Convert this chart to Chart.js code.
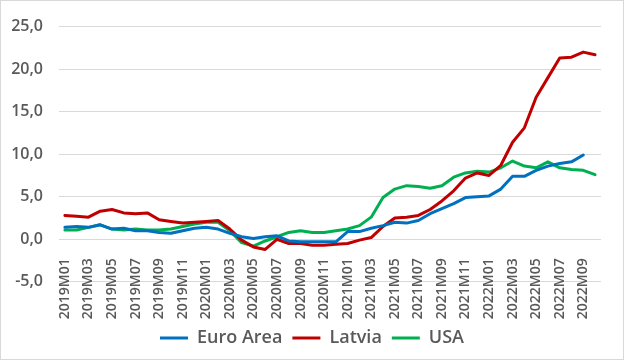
<!DOCTYPE html>
<html>
<head>
<meta charset="utf-8">
<script src="https://cdn.jsdelivr.net/npm/chart.js@4"></script>
<style>
  html, body { margin: 0; padding: 0; background: #fff; }
  #wrap { width: 624px; height: 360px; box-sizing: border-box; border: 1px solid #d9d9d9; }
  canvas { display: block; }
</style>
</head>
<body>
<div id="wrap"><canvas id="chart" width="622" height="358" style="width:622px;height:358px"></canvas></div>
<script>
// Inflation, % year on year
const months = [
  '2019M01','2019M02','2019M03','2019M04','2019M05','2019M06','2019M07','2019M08','2019M09','2019M10','2019M11','2019M12',
  '2020M01','2020M02','2020M03','2020M04','2020M05','2020M06','2020M07','2020M08','2020M09','2020M10','2020M11','2020M12',
  '2021M01','2021M02','2021M03','2021M04','2021M05','2021M06','2021M07','2021M08','2021M09','2021M10','2021M11','2021M12',
  '2022M01','2022M02','2022M03','2022M04','2022M05','2022M06','2022M07','2022M08','2022M09','2022M10'
];

const euroArea = [
  1.4, 1.5, 1.4, 1.7, 1.2, 1.3, 1.0, 1.0, 0.8, 0.7, 1.0, 1.3,
  1.4, 1.2, 0.7, 0.3, 0.1, 0.3, 0.4, -0.2, -0.3, -0.3, -0.3, -0.3,
  0.9, 0.9, 1.3, 1.6, 2.0, 1.9, 2.2, 3.0, 3.6, 4.2, 4.9, 5.0,
  5.1, 5.9, 7.4, 7.4, 8.1, 8.6, 8.9, 9.1, 9.9, null
];

const latvia = [
  2.8, 2.7, 2.6, 3.3, 3.5, 3.1, 3.0, 3.1, 2.3, 2.1, 1.9, 2.0,
  2.1, 2.2, 1.2, -0.1, -0.9, -1.2, 0.0, -0.5, -0.5, -0.7, -0.7, -0.6,
  -0.5, -0.1, 0.2, 1.5, 2.5, 2.6, 2.8, 3.5, 4.5, 5.7, 7.2, 7.8,
  7.5, 8.7, 11.4, 13.1, 16.7, 19.0, 21.3, 21.4, 22.0, 21.7
];

const usa = [
  1.1, 1.1, 1.4, 1.7, 1.2, 1.1, 1.2, 1.1, 1.1, 1.2, 1.5, 1.8,
  2.0, 2.0, 1.0, -0.4, -0.8, -0.2, 0.3, 0.8, 1.0, 0.8, 0.8, 1.0,
  1.2, 1.6, 2.6, 4.9, 5.9, 6.3, 6.2, 6.0, 6.3, 7.3, 7.8, 8.0,
  7.9, 8.4, 9.2, 8.6, 8.4, 9.1, 8.4, 8.2, 8.1, 7.6
];

const yTicks = [-5, 0, 5, 10, 15, 20, 25];

const textColor = '#595959';
const gridColor = '#d9d9d9';

function series(label, data, color) {
  return {
    label: label,
    data: data,
    borderColor: color,
    backgroundColor: color,
    borderWidth: 3,
    pointRadius: 0,
    tension: 0,
    borderJoinStyle: 'round',
    borderCapStyle: 'round'
  };
}

new Chart(document.getElementById('chart'), {
  type: 'line',
  data: {
    labels: months,
    datasets: [
      series('Euro Area', euroArea, '#0070c0'),
      series('Latvia', latvia, '#c00000'),
      series('USA', usa, '#00b050')
    ]
  },
  options: {
    responsive: false,
    animation: false,
    layout: { padding: { left: 0, right: 0, top: 17, bottom: 2 } },
    plugins: {
      tooltip: { enabled: false },
      legend: {
        position: 'bottom',
        // empty title only pushes the legend row down below the month labels
        title: { display: true, text: '', font: { size: 1 }, padding: { top: 36, bottom: 0 } },
        labels: {
          color: textColor,
          font: { family: 'Open Sans', size: 18, weight: '600' },
          usePointStyle: true,
          pointStyle: 'line',
          pointStyleWidth: 28,
          padding: 10
        }
      }
    },
    scales: {
      x: {
        position: { y: 0 },
        offset: true,
        grid: { display: false },
        border: { display: false },
        ticks: {
          color: textColor,
          font: { family: 'Open Sans', size: 14, weight: '600' },
          autoSkip: false,
          minRotation: 90,
          maxRotation: 90,
          padding: 11,
          callback: function (v, i) { return i % 2 === 0 ? months[i] : ''; }
        },
        afterFit: function (s) { s.height = 0; }
      },
      y: {
        min: -5,
        max: 25,
        afterBuildTicks: function (s) { s.ticks = yTicks.map(v => ({ value: v })); },
        grid: { color: gridColor, lineWidth: 1, drawTicks: false },
        border: { display: false },
        ticks: {
          color: textColor,
          font: { family: 'Open Sans', size: 16, weight: '600' },
          padding: 16,
          callback: function (v) { return v.toFixed(1).replace('.', ','); }
        },
        afterFit: function (s) { s.width = 58; }
      },
      // empty right margin so the legend stays centred on the whole chart
      spacer: {
        type: 'linear',
        position: 'right',
        grid: { display: false },
        border: { display: false },
        ticks: { display: false },
        afterFit: function (s) { s.width = 13; }
      }
    }
  }
});
</script>
</body>
</html>
